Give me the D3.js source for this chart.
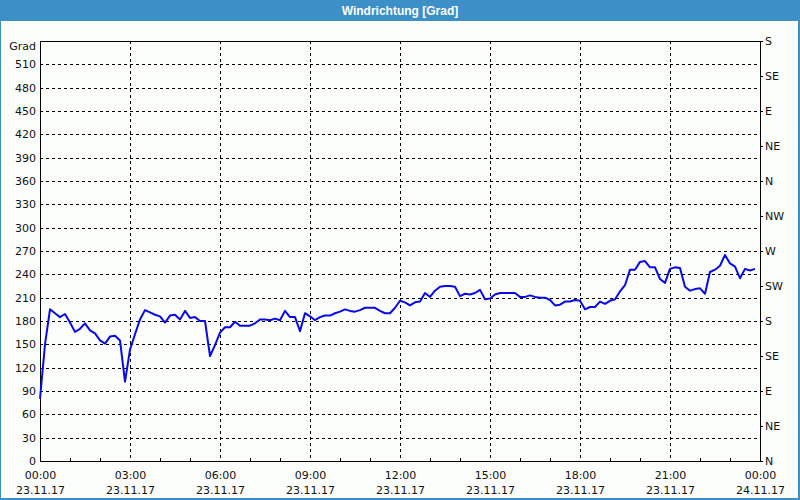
<!DOCTYPE html>
<html>
<head>
<meta charset="utf-8">
<script src="https://cdn.jsdelivr.net/npm/d3@7"></script>
<style>
  html, body { margin: 0; padding: 0; background: #fcfefc; }
  svg { display: block; }
</style>
</head>
<body>
<svg id="chart" width="800" height="500"></svg>
<script>
// ---------- data ----------
const title = "Windrichtung [Grad]";
const yUnit = "Grad";
const startTime = new Date(2017, 10, 23, 0, 0);
const stepMinutes = 10;
const direction = [
  80, 150, 195, 190, 185, 189, 178, 166, 170, 177,
  168, 164, 155, 151, 160, 161, 155, 102, 143, 163,
  182, 194, 191, 188, 186, 178, 187, 188, 182, 193,
  184, 185, 180, 180, 135, 149, 165, 172, 172, 179,
  174, 174, 174, 177, 182, 182, 181, 183, 181, 193,
  185, 185, 167, 190, 186, 181, 185, 187, 187, 190,
  192, 195, 193, 192, 194, 197, 197, 197, 193, 190,
  190, 197, 206, 204, 200, 204, 205, 216, 211, 219,
  224, 225, 225, 224, 212, 215, 214, 216, 220, 208,
  209, 214, 216, 216, 216, 216, 211, 211, 213, 211,
  210, 210, 207, 200, 201, 205, 205, 207, 206, 195,
  198, 198, 205, 202, 206, 208, 218, 226, 246, 246,
  256, 257, 249, 249, 234, 229, 247, 249, 248, 224,
  219, 221, 222, 215, 243, 246, 251, 265, 254, 250,
  235, 247, 245, 247
];
const yTicks = [0, 30, 60, 90, 120, 150, 180, 210, 240, 270, 300, 330, 360, 390, 420, 450, 480, 510];
const yMax = 540;
const compassValues = [0, 45, 90, 135, 180, 225, 270, 315, 360, 405, 450, 495, 540];
const compassLabels = ["N", "NE", "E", "SE", "S", "SW", "W", "NW", "N", "NE", "E", "SE", "S"];
const xTickHours = [0, 3, 6, 9, 12, 15, 18, 21, 24];
const xTickTimeLabels = ["00:00", "03:00", "06:00", "09:00", "12:00", "15:00", "18:00", "21:00", "00:00"];
const xTickDateLabels = ["23.11.17", "23.11.17", "23.11.17", "23.11.17", "23.11.17", "23.11.17", "23.11.17", "23.11.17", "24.11.17"];

// ---------- layout ----------
const W = 800, H = 500;
const plot = { left: 40, right: 760, top: 41, bottom: 461 };
const frameColor = "#3d8fc7";
const font = "Tahoma, 'DejaVu Sans', 'Liberation Sans', sans-serif";

const svg = d3.select("#chart");

// background
svg.append("rect").attr("x", 0).attr("y", 0).attr("width", W).attr("height", H).attr("fill", "#fcfefc");

// title bar
svg.append("rect").attr("x", 0).attr("y", 0).attr("width", W).attr("height", 21).attr("fill", frameColor);
svg.append("text")
  .attr("x", W / 2).attr("y", 11)
  .attr("text-anchor", "middle").attr("dominant-baseline", "central")
  .attr("fill", "#ffffff").attr("font-family", "'Liberation Sans', sans-serif")
  .attr("font-size", 12).attr("font-weight", "bold")
  .text(title);

// frame
svg.append("rect").attr("x", 0.5).attr("y", 0.5).attr("width", W - 1).attr("height", H - 1)
  .attr("fill", "none").attr("stroke", frameColor).attr("stroke-width", 1);
svg.append("line").attr("x1", 0).attr("x2", W).attr("y1", H - 1).attr("y2", H - 1)
  .attr("stroke", frameColor).attr("stroke-width", 2);
svg.append("line").attr("x1", W - 1).attr("x2", W - 1).attr("y1", 0).attr("y2", H)
  .attr("stroke", frameColor).attr("stroke-width", 2);

// scales
const endTime = d3.timeHour.offset(startTime, 24);
const x = d3.scaleTime().domain([startTime, endTime]).range([plot.left, plot.right]);
const y = d3.scaleLinear().domain([0, yMax]).range([plot.bottom, plot.top]);

const data = direction.map((v, i) => ({ t: d3.timeMinute.offset(startTime, i * stepMinutes), v }));

// grid
const grid = svg.append("g").attr("stroke", "#000").attr("stroke-width", 1).attr("stroke-dasharray", "3,3");
grid.selectAll("line.h").data(yTicks.filter(v => v > 0)).join("line")
  .attr("x1", plot.left).attr("x2", plot.right)
  .attr("y1", d => Math.round(y(d)) + 0.5).attr("y2", d => Math.round(y(d)) + 0.5);
grid.selectAll("line.v").data(xTickHours.filter(h => h > 0 && h < 24)).join("line")
  .attr("x1", d => Math.round(x(d3.timeHour.offset(startTime, d))) + 0.5)
  .attr("x2", d => Math.round(x(d3.timeHour.offset(startTime, d))) + 0.5)
  .attr("y1", plot.top).attr("y2", plot.bottom);

// left axis labels
const yAxis = d3.axisLeft(y).tickValues(yTicks).tickSize(0).tickPadding(4);
const gy = svg.append("g").attr("transform", `translate(${plot.left},0)`).call(yAxis);
gy.select(".domain").remove();
gy.selectAll("text").attr("font-family", font).attr("font-size", 11).attr("fill", "#111");

svg.append("text").attr("x", plot.left - 4).attr("y", 46)
  .attr("text-anchor", "end").attr("dominant-baseline", "central")
  .attr("font-family", font).attr("font-size", 11).attr("fill", "#111").text(yUnit);

// right axis (compass)
const yRight = d3.axisRight(y).tickValues(compassValues)
  .tickFormat((d, i) => compassLabels[i]).tickSize(3).tickPadding(2);
const gr = svg.append("g").attr("transform", `translate(${plot.right},0)`).call(yRight);
gr.select(".domain").remove();
gr.selectAll("text").attr("font-family", font).attr("font-size", 11).attr("fill", "#111");
gr.selectAll("line").attr("stroke", "#000");

// bottom axis labels
const xTickDates = xTickHours.map(h => d3.timeHour.offset(startTime, h));
const xAxis = d3.axisBottom(x).tickValues(xTickDates).tickSize(0).tickPadding(0)
  .tickFormat(() => "");
const gx = svg.append("g").attr("transform", `translate(0,${plot.bottom})`).call(xAxis);
gx.select(".domain").remove();
gx.selectAll(".tick").each(function (d, i) {
  const g = d3.select(this);
  g.append("text").attr("y", 14).attr("dy", "0.35em").attr("text-anchor", "middle")
    .attr("font-family", font).attr("font-size", 11).attr("fill", "#111")
    .text(xTickTimeLabels[i]);
  g.append("text").attr("y", 29).attr("dy", "0.35em").attr("text-anchor", "middle")
    .attr("font-family", font).attr("font-size", 11).attr("fill", "#111")
    .text(xTickDateLabels[i]);
});

// minor hourly ticks (inward)
const hours = d3.range(1, 24).filter(h => h % 3 !== 0).map(h => d3.timeHour.offset(startTime, h));
svg.append("g").selectAll("line").data(hours).join("line")
  .attr("x1", d => Math.round(x(d)) + 0.5).attr("x2", d => Math.round(x(d)) + 0.5)
  .attr("y1", plot.bottom - 3).attr("y2", plot.bottom)
  .attr("stroke", "#000");

// plot border
svg.append("rect").attr("x", plot.left + 0.5).attr("y", plot.top + 0.5)
  .attr("width", plot.right - plot.left).attr("height", plot.bottom - plot.top)
  .attr("fill", "none").attr("stroke", "#000").attr("stroke-width", 1);

// line
const line = d3.line().x(d => x(d.t)).y(d => y(d.v));
svg.append("path").datum(data)
  .attr("d", line)
  .attr("fill", "none").attr("stroke", "#0a0ae6").attr("stroke-width", 2)
  .attr("stroke-linejoin", "round");
</script>
</body>
</html>
